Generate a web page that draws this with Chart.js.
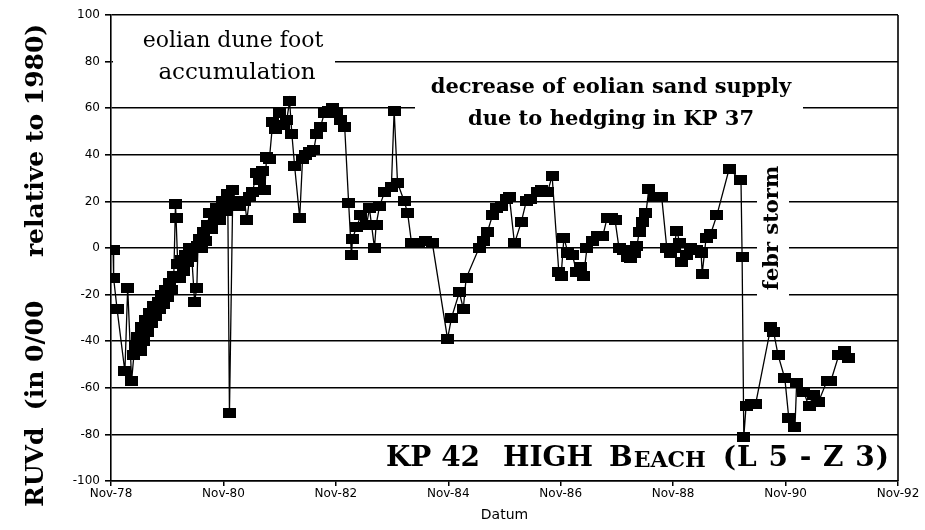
<!DOCTYPE html>
<html>
<head>
<meta charset="utf-8">
<script src="https://cdn.jsdelivr.net/npm/chart.js@4/dist/chart.umd.min.js"></script>
<style>
  html, body { margin: 0; padding: 0; background: #fff; }
</style>
</head>
<body>
<canvas id="myChart" width="925" height="530"></canvas>
<script>
// fechas en años decimales (Nov-78 = 78.833)
var fechas = [
  78.87, 78.88, 78.94, 79.08, 79.13, 79.20, 79.24, 79.27, 79.31, 79.35,
  79.38, 79.42, 79.45, 79.49, 79.52, 79.56, 79.59, 79.63, 79.67, 79.70,
  79.74, 79.77, 79.81, 79.84, 79.88, 79.91, 79.95, 79.98, 79.99, 80.02,
  80.06, 80.09, 80.13, 80.16, 80.20, 80.23, 80.27, 80.32, 80.36, 80.38,
  80.41, 80.45, 80.48, 80.52, 80.55, 80.59, 80.62, 80.68, 80.71, 80.77,
  80.82, 80.87, 80.91, 80.94, 81.00, 81.05, 81.12, 81.21, 81.25, 81.30,
  81.35, 81.42, 81.48, 81.53, 81.57, 81.60, 81.65, 81.71, 81.76, 81.83,
  81.90, 81.96, 82.01, 82.05, 82.10, 82.19, 82.24, 82.29, 82.36, 82.44,
  82.49, 82.56, 82.63, 82.70, 82.77, 82.84, 82.92, 82.99, 83.06, 83.11,
  83.13, 83.20, 83.28, 83.38, 83.43, 83.52, 83.55, 83.61, 83.70, 83.82,
  83.87, 83.93, 84.05, 84.11, 84.18, 84.30, 84.42, 84.55, 84.82, 84.89,
  85.03, 85.10, 85.15, 85.38, 85.46, 85.53, 85.62, 85.69, 85.78, 85.86,
  85.92, 86.01, 86.13, 86.22, 86.30, 86.42, 86.50, 86.60, 86.68, 86.80,
  86.84, 86.89, 86.96, 87.04, 87.12, 87.18, 87.24, 87.30, 87.40, 87.48,
  87.58, 87.66, 87.73, 87.80, 87.87, 87.95, 88.02, 88.08, 88.14, 88.19,
  88.23, 88.28, 88.35, 88.40, 88.50, 88.63, 88.72, 88.78, 88.84, 88.90,
  88.95, 88.99, 89.07, 89.15, 89.25, 89.33, 89.35, 89.42, 89.50, 89.61,
  89.83, 90.04, 90.06, 90.09, 90.13, 90.22, 90.30, 90.57, 90.62, 90.70,
  90.82, 90.89, 91.00, 91.03, 91.16, 91.25, 91.33, 91.42, 91.57, 91.64,
  91.78, 91.88, 91.95
];

var ruvd = [
  -1, -13, -26, -53, -17, -57, -46, -42, -38, -44,
  -34, -40, -31, -36, -28, -32, -25, -29, -23, -26,
  -20, -24, -18, -21, -15, -18, -12, 19, 13, -7,
  -13, -5, -10, -3, -6, 0, -4, -23, -17, 1,
  4, 0, 7, 3, 10, 15, 8, 14, 17, 12,
  20, 16, 23, -71, 25, 20, 18, 20, 12, 22,
  24, 32, 29, 33, 25, 39, 38, 54, 51, 58,
  53, 55, 63, 49, 35, 13, 38, 40, 41, 42,
  49, 52, 58, 59, 60, 58, 55, 52, 19.5, -3,
  4, 9, 14, 10, 17, 0, 10, 18, 24, 26,
  59, 28, 20, 15, 2, 2, 3, 2, -39, -30,
  -19, -26, -13, 0, 3, 7, 14, 17, 18, 21,
  22, 2, 11, 20, 21, 24, 25, 24, 31, -10.5,
  -12, 4.5, -2, -3, -10.5, -8, -12, 0, 3, 5,
  5, 13, 13, 12, 0, -1, -4, -4.5, -2, 1,
  7, 11, 15, 25.5, 22, 21.7, 0, -2, 0, 7.5,
  2, -6, -3, 0, -1, -2, -11, 4.5, 6, 14,
  34, 29, -4, -81, -68, -67, -67, -34, -36, -46,
  -56, -73, -77, -58, -62, -68, -63, -66, -57, -57,
  -46, -44, -47
];

var tickValores = [78.833, 80.833, 82.833, 84.833, 86.833, 88.833, 90.833, 92.833];
var tickTextos = ['Nov-78', 'Nov-80', 'Nov-82', 'Nov-84', 'Nov-86', 'Nov-88', 'Nov-90', 'Nov-92'];

// marca cuadrada negra
var marca = document.createElement('canvas');
marca.width = 13;
marca.height = 10;
var mctx = marca.getContext('2d');
mctx.fillStyle = '#000';
mctx.fillRect(0, 0, 13, 10);

function cajaTexto(c, x, y, w, h) {
  c.fillStyle = '#fff';
  c.fillRect(x, y, w, h);
  c.fillStyle = '#000';
}

var anotaciones = {
  id: 'anotaciones',
  beforeDatasetsDraw: function(chart) {
    var c = chart.ctx;
    var a = chart.chartArea;
    c.save();

    // marco derecho
    c.strokeStyle = '#000';
    c.lineWidth = 1.6;
    c.beginPath();
    c.moveTo(a.right, a.top);
    c.lineTo(a.right, a.bottom);
    c.stroke();

    c.textAlign = 'center';
    c.textBaseline = 'middle';

    cajaTexto(c, a.left + 2, a.top + 3, 222, 73);
    c.font = '22px "DejaVu Serif"';
    c.fillText('eolian dune foot', 233, 41);
    c.font = '23px "DejaVu Serif"';
    c.fillText('accumulation', 237, 73);

    cajaTexto(c, 415, 68, 388, 68);
    c.font = 'bold 21px "DejaVu Serif"';
    c.fillText('decrease of eolian sand supply', 611, 88);
    c.fillText('due to hedging in KP 37', 611, 120);

    cajaTexto(c, 757, 163, 32, 135);
    c.save();
    c.translate(773, 228);
    c.rotate(-Math.PI / 2);
    c.font = 'bold 21px "DejaVu Serif"';
    c.fillText('febr storm', 0, 0);
    c.restore();

    cajaTexto(c, 378, 440, 515, 38);
    c.textAlign = 'left';
    c.font = 'bold 28px "DejaVu Serif"';
    c.fillText('KP 42', 386, 459);
    c.fillText('HIGH', 503, 459);
    c.fillText('B', 609, 459);
    var bx = 609 + c.measureText('B').width + 1;
    c.font = 'bold 22px "DejaVu Serif"';
    c.fillText('EACH', bx, 461);
    c.textAlign = 'right';
    c.font = 'bold 28px "DejaVu Serif"';
    c.letterSpacing = '1px';
    c.fillText('(L 5 - Z 3)', 890, 459);
    c.letterSpacing = '0px';

    c.restore();
  }
};

var ctx = document.getElementById('myChart').getContext('2d');

var config = {
  type: 'line',
  data: {
    datasets: [{
      data: fechas.map(function(f, i) { return { x: f, y: ruvd[i] }; }),
      borderColor: '#000',
      borderWidth: 1.3,
      pointStyle: marca,
      pointRadius: 6,
      pointBackgroundColor: '#000',
      tension: 0,
      fill: false
    }]
  },
  options: {
    responsive: false,
    animation: false,
    devicePixelRatio: 1,
    layout: { padding: { left: 0, top: 15, right: 27, bottom: 0 } },
    plugins: {
      legend: { display: false },
      tooltip: { enabled: false }
    },
    scales: {
      x: {
        type: 'linear',
        min: 78.833,
        max: 92.833,
        afterBuildTicks: function(scale) {
          scale.ticks = tickValores.map(function(v) { return { value: v }; });
        },
        afterFit: function(scale) { scale.height = 49; },
        grid: { drawOnChartArea: false, color: '#000', tickLength: 5, lineWidth: 1.5 },
        border: { color: '#000', width: 1.6 },
        ticks: {
          color: '#000',
          font: { family: 'DejaVu Sans', size: 12 },
          padding: 1,
          maxRotation: 0,
          autoSkip: false,
          callback: function(v, i) { return tickTextos[i]; }
        },
        title: {
          display: true,
          text: 'Datum',
          color: '#000',
          font: { family: 'DejaVu Sans', size: 14 },
          padding: { top: 0, bottom: 6 }
        }
      },
      y: {
        min: -100,
        max: 100,
        afterFit: function(scale) { scale.width = 111; },
        grid: { color: '#000', lineWidth: 1.6, tickLength: 6 },
        border: { color: '#000', width: 1.6 },
        ticks: {
          stepSize: 20,
          color: '#000',
          font: { family: 'DejaVu Sans', size: 12 },
          padding: 5
        },
        title: {
          display: true,
          text: 'RUVd  (in 0/00     relative to 1980)    ',
          color: '#000',
          font: { family: 'DejaVu Serif', size: 25, weight: 'bold' },
          padding: { top: 21, bottom: 0 }
        }
      }
    }
  },
  plugins: [anotaciones]
};

var chart = new Chart(ctx, config);
</script>
</body>
</html>
